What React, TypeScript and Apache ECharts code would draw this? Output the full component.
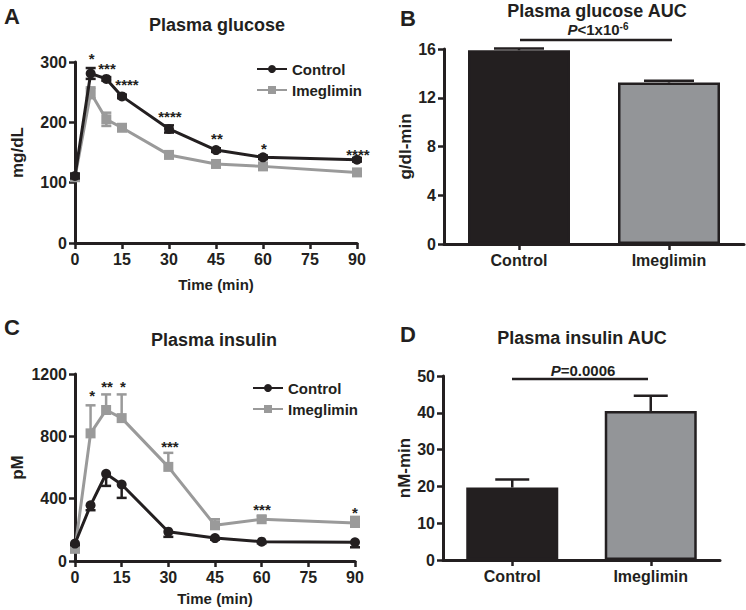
import React, { useEffect, useRef } from 'react';
import * as echarts from 'echarts';

const times = [0, 5, 10, 15, 30, 45, 60, 90];
const seriesNames = ['Control', 'Imeglimin'];

const glucoseControl = [111, 281, 272, 243, 189, 154, 142, 138];
const glucoseControlSem = [4, 9, 3, 3, 6, 3, 3, 3];
const glucoseImeg = [109, 249, 205, 191, 146, 131, 127, 117];
const glucoseImegSem = [4, 9, 11, 5, 3, 3, 3, 3];
const glucoseStars = ['*', '***', '****', '****', '**', '*', '****'];
const glucoseStarX = [5.3, 10.2, 16.6, 30.3, 45.3, 60.3, 90.3];
const glucoseStarY = [310, 295, 267, 215, 179, 161, 151];

const insulinControl = [112, 357, 560, 491, 188, 147, 124, 120];
const insulinControlSem = [10, 31, 78, 86, 33, 10, 10, 32];
const insulinImeg = [78, 819, 969, 917, 604, 229, 268, 244];
const insulinImegSem = [10, 180, 100, 152, 90, 39, 19, 39];
const insulinStars = ['*', '**', '*', '***', '***', '*'];
const insulinStarX = [5.5, 10.3, 15.4, 30.5, 60.1, 90];
const insulinStarY = [1084, 1142, 1142, 757, 352, 332];

const aucCategories = ['Control', 'Imeglimin'];
const glucoseAuc = [15.9, 13.25];
const glucoseAucSem = [0.15, 0.15];
const insulinAuc = [19.7, 40.5];
const insulinAucSem = [2.2, 4.1];

const BLACK = '#231f20';
const GRAY = '#939598';
const LGRAY = '#9a9a9a';
const FONT = 'Liberation Sans';

function errRender(capHalf: number, top: boolean, bottom: boolean, color: string) {
  return (params: any, api: any) => {
    const x = api.value(0);
    const lo = api.coord([x, api.value(1)]);
    const hi = api.coord([x, api.value(2)]);
    const st = { stroke: color, lineWidth: 2.5 };
    const children: any[] = [
      { type: 'line', shape: { x1: lo[0], y1: lo[1], x2: hi[0], y2: hi[1] }, style: st },
    ];
    if (top) children.push({ type: 'line', shape: { x1: hi[0] - capHalf, y1: hi[1], x2: hi[0] + capHalf, y2: hi[1] }, style: st });
    if (bottom) children.push({ type: 'line', shape: { x1: lo[0] - capHalf, y1: lo[1], x2: lo[0] + capHalf, y2: lo[1] }, style: st });
    return { type: 'group', children };
  };
}

function starRender(labels: string[]) {
  return (params: any, api: any) => {
    const p = api.coord([api.value(0), api.value(1)]);
    return {
      type: 'text',
      x: p[0],
      y: p[1] + 3,
      style: {
        text: labels[params.dataIndex],
        align: 'center',
        verticalAlign: 'middle',
        textAlign: 'center',
        textVerticalAlign: 'middle',
        font: `bold 15px "${FONT}"`,
        fill: BLACK,
      },
    };
  };
}

const axisCommon = {
  axisLine: { show: true, onZero: false, lineStyle: { color: BLACK, width: 3 } },
  axisTick: { show: true, length: 6, lineStyle: { color: BLACK, width: 2.5 } },
  axisLabel: { color: BLACK, fontSize: 16, fontWeight: 'bold', fontFamily: FONT, margin: 8 },
  splitLine: { show: false },
  nameTextStyle: { color: BLACK, fontSize: 15, fontWeight: 'bold', fontFamily: FONT },
};

const plainNum = (v: number) => String(v);

export default function App() {
  const ref = useRef<HTMLDivElement>(null);
  useEffect(() => {
    if (!ref.current) return;
    const chart = echarts.init(ref.current, null, { renderer: 'svg' });
    const timeAxis = (gridIndex: number, nameGap: number) => ({
      ...axisCommon,
      type: 'value',
      gridIndex,
      min: 0,
      max: 90,
      interval: 15,
      name: 'Time (min)',
      nameLocation: 'middle',
      nameGap,
    });
    const catAxis = (gridIndex: number) => ({
      ...axisCommon,
      type: 'category',
      gridIndex,
      data: aucCategories,
      axisTick: { ...axisCommon.axisTick, alignWithLabel: true },
    });
    const valAxis = (gridIndex: number, max: number, interval: number, name: string, nameGap: number) => ({
      ...axisCommon,
      type: 'value',
      gridIndex,
      min: 0,
      max,
      interval,
      name,
      nameLocation: 'middle',
      nameGap,
      nameTextStyle: { ...axisCommon.nameTextStyle, fontSize: 17 },
      axisLabel: { ...axisCommon.axisLabel, formatter: plainNum },
    });
    const lineSeries = (name: string, data: number[], xi: number, color: string, symbol: string, z: number) => ({
      type: 'line',
      name,
      xAxisIndex: xi,
      yAxisIndex: xi,
      data: times.map((t, i) => [t, data[i]]),
      symbol,
      symbolSize: 10,
      lineStyle: { color, width: 3 },
      itemStyle: { color },
      z,
    });
    const legendCommon = {
      orient: 'vertical', data: seriesNames, itemWidth: 30, itemHeight: 10, itemGap: 3, padding: 0,
      textStyle: { color: BLACK, fontSize: 15, fontWeight: 'bold', fontFamily: FONT, lineHeight: 18 },
      selectedMode: false,
    };
    const bold = (size: number) => `bold ${size}px "${FONT}"`;
    const centered = { textAlign: 'center', align: 'center', textVerticalAlign: 'middle', verticalAlign: 'middle', fill: BLACK };
    const option: any = {
      animation: false,
      textStyle: { fontFamily: FONT },
      grid: [
        { left: 75, top: 62, width: 282, height: 181 },
        { left: 444, top: 49, width: 300, height: 195 },
        { left: 75, top: 374, width: 280, height: 187 },
        { left: 443, top: 376, width: 277, height: 184 },
      ],
      xAxis: [timeAxis(0, 34), catAxis(1), timeAxis(2, 30), catAxis(3)],
      yAxis: [
        valAxis(0, 300, 100, 'mg/dL', 49),
        valAxis(1, 16, 4, 'g/dl-min', 27),
        valAxis(2, 1200, 400, 'pM', 49),
        valAxis(3, 50, 10, 'nM-min', 27),
      ],
      legend: [
        { ...legendCommon, left: 256, top: 60 },
        { ...legendCommon, left: 252, top: 379 },
      ],
      series: [
        // Panel A
        {
          type: 'custom', xAxisIndex: 0, yAxisIndex: 0, z: 1,
          data: times.map((t, i) => [t, glucoseImeg[i] - glucoseImegSem[i], glucoseImeg[i] + glucoseImegSem[i]]),
          renderItem: errRender(5, true, true, LGRAY),
        },
        {
          type: 'custom', xAxisIndex: 0, yAxisIndex: 0, z: 3,
          data: times.map((t, i) => [t, glucoseControl[i] - glucoseControlSem[i], glucoseControl[i] + glucoseControlSem[i]]),
          renderItem: errRender(5, true, true, BLACK),
        },
        lineSeries('Imeglimin', glucoseImeg, 0, LGRAY, 'rect', 2),
        lineSeries('Control', glucoseControl, 0, BLACK, 'circle', 4),
        {
          type: 'custom', xAxisIndex: 0, yAxisIndex: 0, z: 5,
          data: glucoseStarX.map((x, i) => [x, glucoseStarY[i]]),
          renderItem: starRender(glucoseStars),
        },
        // Panel C
        {
          type: 'custom', xAxisIndex: 2, yAxisIndex: 2, z: 1,
          data: times.map((t, i) => [t, insulinImeg[i], insulinImeg[i] + insulinImegSem[i]]),
          renderItem: errRender(5, true, false, LGRAY),
        },
        {
          type: 'custom', xAxisIndex: 2, yAxisIndex: 2, z: 3,
          data: times.map((t, i) => [t, insulinControl[i] - insulinControlSem[i], insulinControl[i]]),
          renderItem: errRender(5, false, true, BLACK),
        },
        lineSeries('Imeglimin', insulinImeg, 2, LGRAY, 'rect', 2),
        lineSeries('Control', insulinControl, 2, BLACK, 'circle', 4),
        {
          type: 'custom', xAxisIndex: 2, yAxisIndex: 2, z: 5,
          data: insulinStarX.map((x, i) => [x, insulinStarY[i]]),
          renderItem: starRender(insulinStars),
        },
        // Panel B
        {
          type: 'bar', xAxisIndex: 1, yAxisIndex: 1, barWidth: 102, z: 2,
          data: glucoseAuc.map((v, i) => ({ value: v, itemStyle: { color: i === 0 ? BLACK : GRAY, borderColor: BLACK, borderWidth: 2.5 } })),
        },
        {
          type: 'custom', xAxisIndex: 1, yAxisIndex: 1, z: 1,
          data: glucoseAuc.map((v, i) => [i, v, v + glucoseAucSem[i]]),
          renderItem: errRender(25, true, false, BLACK),
        },
        // Panel D
        {
          type: 'bar', xAxisIndex: 3, yAxisIndex: 3, barWidth: 92, z: 2,
          data: insulinAuc.map((v, i) => ({ value: v, itemStyle: { color: i === 0 ? BLACK : GRAY, borderColor: BLACK, borderWidth: 2.5 } })),
        },
        {
          type: 'custom', xAxisIndex: 3, yAxisIndex: 3, z: 1,
          data: insulinAuc.map((v, i) => [i, v, v + insulinAucSem[i]]),
          renderItem: errRender(17, true, false, BLACK),
        },
      ],
      graphic: [
        { type: 'text', x: 4, y: 16, style: { text: 'A', font: bold(22), fill: BLACK, textVerticalAlign: 'middle', verticalAlign: 'middle' } },
        { type: 'text', x: 400, y: 18, style: { text: 'B', font: bold(22), fill: BLACK, textVerticalAlign: 'middle', verticalAlign: 'middle' } },
        { type: 'text', x: 4, y: 327, style: { text: 'C', font: bold(22), fill: BLACK, textVerticalAlign: 'middle', verticalAlign: 'middle' } },
        { type: 'text', x: 400, y: 334, style: { text: 'D', font: bold(22), fill: BLACK, textVerticalAlign: 'middle', verticalAlign: 'middle' } },
        { type: 'text', x: 217, y: 25, style: { text: 'Plasma glucose', font: bold(18), ...centered } },
        { type: 'text', x: 597, y: 11, style: { text: 'Plasma glucose AUC', font: bold(18), lineHeight: 18, ...centered } },
        { type: 'text', x: 214, y: 340, style: { text: 'Plasma insulin', font: bold(18), ...centered } },
        { type: 'text', x: 582, y: 338, style: { text: 'Plasma insulin AUC', font: bold(18), ...centered } },
        {
          type: 'text', x: 598, y: 29,
          style: {
            text: '{i|P}{n|<1x10}{s|-6}',
            ...centered,
            rich: {
              i: { fontSize: 15, fontWeight: 'bold', fontStyle: 'italic', fontFamily: FONT, fill: BLACK, color: BLACK, lineHeight: 15 },
              n: { fontSize: 15, fontWeight: 'bold', fontFamily: FONT, fill: BLACK, color: BLACK, lineHeight: 15 },
              s: { fontSize: 10, fontWeight: 'bold', fontFamily: FONT, fill: BLACK, color: BLACK, verticalAlign: 'top', lineHeight: 10 },
            },
          },
        },
        { type: 'line', shape: { x1: 520, y1: 40, x2: 672, y2: 40 }, style: { stroke: BLACK, lineWidth: 2.5 } },
        {
          type: 'text', x: 583, y: 370,
          style: {
            text: '{i|P}{n|=0.0006}',
            ...centered,
            rich: {
              i: { fontSize: 15, fontWeight: 'bold', fontStyle: 'italic', fontFamily: FONT, fill: BLACK, color: BLACK },
              n: { fontSize: 15, fontWeight: 'bold', fontFamily: FONT, fill: BLACK, color: BLACK },
            },
          },
        },
        { type: 'line', shape: { x1: 512, y1: 379, x2: 648, y2: 379 }, style: { stroke: BLACK, lineWidth: 2.5 } },
      ],
    };
    chart.setOption(option);
    return () => chart.dispose();
  }, []);
  return <div ref={ref} style={{ position: 'absolute', left: 0, top: 0, width: 746, height: 610, background: '#fff' }} />;
}
